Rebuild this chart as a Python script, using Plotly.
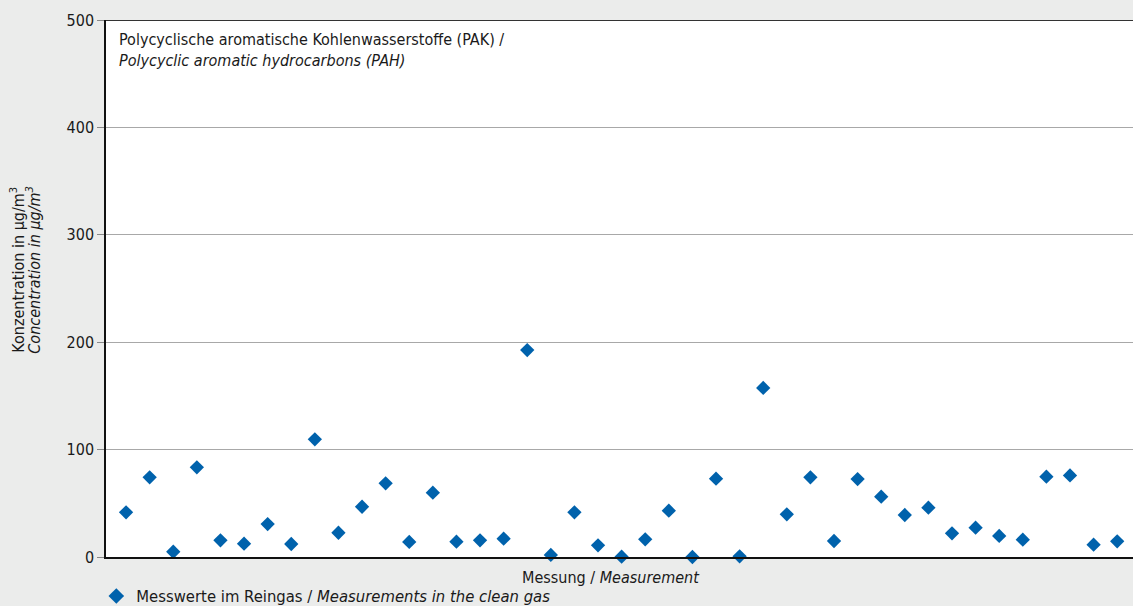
import plotly.graph_objects as go

measurement = list(range(1, 44))
pah_values = [41.6, 74.2, 4.9, 83.5, 15.5, 12.4, 30.7, 12.1, 109.6, 22.6,
              46.8, 68.6, 14.0, 59.9, 14.3, 15.5, 17.1, 192.7, 1.9, 41.6,
              10.9, 0.3, 16.5, 43.1, 0.0, 72.9, 0.6, 157.4, 39.7, 74.2,
              14.9, 72.6, 56.2, 39.1, 45.9, 22.0, 27.3, 19.6, 16.1, 74.8,
              76.0, 11.5, 14.6]
y_ticks = [0, 100, 200, 300, 400, 500]

FONT = "Liberation Sans Narrow, DejaVu Sans Condensed, Arial Narrow, sans-serif"
BLUE = "#0062ac"
TXT = "#1a1a1a"

fig = go.Figure()
fig.add_trace(go.Scatter(
    x=measurement, y=pah_values, mode="markers",
    marker=dict(symbol="diamond", size=11, color=BLUE, line=dict(width=0)),
    name="Messwerte im Reingas / <i>Measurements in the clean gas</i>",
    showlegend=True, cliponaxis=False,
))

fig.update_layout(
    width=1133, height=606,
    margin=dict(l=106, r=0, t=20, b=49, autoexpand=False),
    paper_bgcolor="#ebeceb", plot_bgcolor="white",
    font=dict(family=FONT, size=16, color=TXT),
    showlegend=True,
    legend=dict(xref="container", yref="container", x=0.085, y=0.016,
                xanchor="left", yanchor="middle",
                bgcolor="rgba(0,0,0,0)", font=dict(family=FONT, size=16.5),
                itemsizing="constant"),
    xaxis=dict(range=[0.15, 43.67], showgrid=False, zeroline=False,
               showticklabels=False, ticks="", showline=True,
               linecolor="#111111", linewidth=2, fixedrange=True),
    yaxis=dict(range=[0, 500], tickvals=y_ticks, showgrid=True,
               gridcolor="#a8a8a8", gridwidth=1, zeroline=False,
               showline=True, linecolor="#111111", linewidth=1.5,
               ticks="outside", ticklen=7, tickcolor="#888888", tickwidth=1,
               tickfont=dict(family=FONT, size=16, color=TXT),
               fixedrange=True),
)

# top border of the plot area
fig.add_shape(type="line", xref="paper", yref="y", x0=0, x1=1, y0=500, y1=500,
              line=dict(color="#333333", width=2))

fig.add_annotation(
    xref="paper", yref="paper", x=0.0107, y=0.985, xanchor="left", yanchor="top",
    text="Polycyclische aromatische Kohlenwasserstoffe (PAK) /<br><i>Polycyclic aromatic hydrocarbons (PAH)</i>",
    showarrow=False, align="left", font=dict(family=FONT, size=16, color=TXT),
)
fig.add_annotation(
    xref="paper", yref="paper", x=-0.0857, y=0.535, xanchor="center", yanchor="middle",
    textangle=-90, text="Konzentration in µg/m<sup>3</sup>",
    showarrow=False, font=dict(family=FONT, size=16, color=TXT),
)
fig.add_annotation(
    xref="paper", yref="paper", x=-0.0701, y=0.535, xanchor="center", yanchor="middle",
    textangle=-90, text="<i>Concentration in µg/m<sup>3</sup></i>",
    showarrow=False, font=dict(family=FONT, size=16, color=TXT),
)
fig.add_annotation(
    xref="paper", yref="paper", x=0.492, y=-0.038, xanchor="center", yanchor="middle",
    text="Messung / <i>Measurement</i>",
    showarrow=False, font=dict(family=FONT, size=16, color=TXT),
)

fig.write_html(
    "out.html",
    config={"displayModeBar": False},
    post_script="document.body.style.margin='0';document.body.style.padding='0';"
                "document.body.style.background='#ebeceb';",
)
